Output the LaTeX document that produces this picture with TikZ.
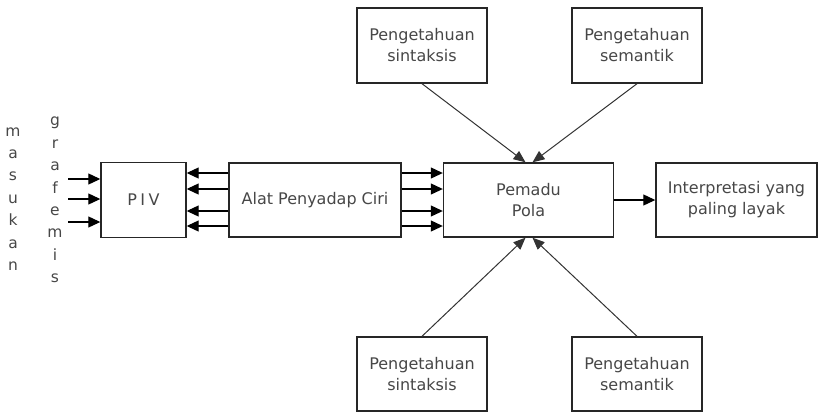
\documentclass[tikz,border=0pt]{standalone}
\usepackage{fontspec}
\setmainfont{DejaVu Sans}
\usetikzlibrary{arrows.meta,calc}
\begin{document}
\begin{tikzpicture}[x=1pt,y=-1pt,
  box/.style={draw=black!85,line width=1.4pt,fill=white,inner sep=0pt,
    align=center,text=black!72,font=\fontsize{16}{21}\selectfont},
  arr/.style={draw=black,line width=1.1pt,-{Triangle[length=12pt,width=11pt]}},
  diag/.style={draw=black!80,line width=1pt,-{Triangle[length=12pt,width=10pt]}},
  vword/.style={align=center,text=black!72,inner sep=0pt,
    font=\fontsize{15.5}{22.4}\selectfont}]
\useasboundingbox (0,0) rectangle (820,413);

% main chain
\node[box,minimum width=85pt,minimum height=75pt] (piv) at (143.5,200) {P\hspace{3.5pt}I\hspace{3.5pt}V};
\node[box,minimum width=172pt,minimum height=74pt] (alat) at (315,200) {Alat Penyadap Ciri};
\node[box,minimum width=170pt,minimum height=74pt] (pemadu) at (528.5,200) {Pemadu\\Pola};
\node[box,minimum width=161pt,minimum height=74pt] (interp) at (736.5,200) {Interpretasi yang\\paling layak};

% knowledge sources
\node[box,minimum width=130pt,minimum height=75pt] (sinA) at (422,45.5) {Pengetahuan\\sintaksis};
\node[box,minimum width=130pt,minimum height=75pt] (semA) at (637,45.5) {Pengetahuan\\semantik};
\node[box,minimum width=130pt,minimum height=74pt] (sinB) at (422,374) {Pengetahuan\\sintaksis};
\node[box,minimum width=130pt,minimum height=74pt] (semB) at (637,374) {Pengetahuan\\semantik};

% vertical input labels
\node[vword] (masukan) at (13,199) {m\\a\\s\\u\\k\\a\\n};
\node[vword] (grafemis) at (55,200) {g\\r\\a\\f\\e\\m\\i\\s};

% input arrows into PIV
\coordinate (in1) at (68,179);
\coordinate (in2) at (68,199);
\coordinate (in3) at (68,222);
\foreach \c in {in1,in2,in3}
  \draw[arr] (\c) -- (\c -| piv.west);

% feature lines between the boxes
\foreach \yy [count=\i] in {173,189,211,226} {
  \coordinate (f\i) at (0,\yy);
  \draw[arr] (alat.west |- f\i) -- (piv.east |- f\i);
  \draw[arr] (alat.east |- f\i) -- (pemadu.west |- f\i);
}

% output
\draw[arr] (pemadu.east) -- (interp.west);

% knowledge into the pattern matcher
\draw[diag] (sinA.south) -- ($(pemadu.north)+(-3,0)$);
\draw[diag] (semA.south) -- ($(pemadu.north)+(4,0)$);
\draw[diag] (sinB.north) -- ($(pemadu.south)+(-3,0)$);
\draw[diag] (semB.north) -- ($(pemadu.south)+(4,0)$);
\end{tikzpicture}
\end{document}
